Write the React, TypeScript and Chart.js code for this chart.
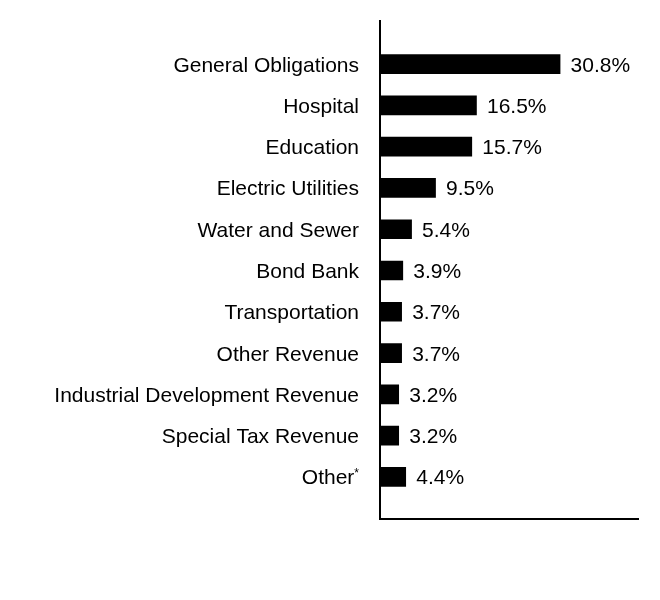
import React, { useEffect, useRef } from "react";
import { Chart, registerables } from "chart.js";

Chart.register(...registerables);

const categories = [
  "General Obligations",
  "Hospital",
  "Education",
  "Electric Utilities",
  "Water and Sewer",
  "Bond Bank",
  "Transportation",
  "Other Revenue",
  "Industrial Development Revenue",
  "Special Tax Revenue",
  "Other",
];
const footnoteMarks = ["", "", "", "", "", "", "", "", "", "", "*"];
const values = [30.8, 16.5, 15.7, 9.5, 5.4, 3.9, 3.7, 3.7, 3.2, 3.2, 4.4];

const FONT = "Arial, 'Liberation Sans', sans-serif";

const labelsPlugin = {
  id: "customLabels",
  afterDraw(chart: any) {
    const ctx = chart.ctx;
    const ys = chart.scales.y;
    const area = chart.chartArea;
    ctx.save();
    // axis lines
    ctx.strokeStyle = "#000";
    ctx.lineWidth = 2;
    ctx.beginPath();
    ctx.moveTo(area.left, 20);
    ctx.lineTo(area.left, 519);
    ctx.lineTo(area.right, 519);
    ctx.stroke();

    ctx.fillStyle = "#000";
    ctx.textBaseline = "alphabetic";
    const meta = chart.getDatasetMeta(0);
    categories.forEach((cat, i) => {
      const y = ys.getPixelForValue(i);
      const base = y + 7.5;
      ctx.font = `21px ${FONT}`;
      ctx.textAlign = "right";
      const mark = footnoteMarks[i];
      let right = area.left - 21;
      if (mark) {
        ctx.font = `12px ${FONT}`;
        const mw = ctx.measureText(mark).width;
        ctx.fillText(mark, right, base - 7);
        right -= mw;
        ctx.font = `21px ${FONT}`;
      }
      ctx.fillText(cat, right, base);
      const bar = meta.data[i];
      ctx.textAlign = "left";
      ctx.fillText(values[i].toFixed(1) + "%", bar.x + 10.5, base);
    });
    ctx.restore();
  },
};

export default function App() {
  const ref = useRef<HTMLCanvasElement>(null);
  useEffect(() => {
    if (!ref.current) return;
    const chart = new Chart(ref.current, {
      type: "bar",
      data: {
        labels: categories,
        datasets: [
          {
            data: values,
            backgroundColor: "#000",
            borderWidth: 0,
            barThickness: 19,
          },
        ],
      },
      options: {
        indexAxis: "y",
        animation: false,
        responsive: false,
        layout: { padding: { left: 380, right: 21, top: 43.5, bottom: 102.5 } },
        plugins: { legend: { display: false }, tooltip: { enabled: false } },
        scales: {
          x: { min: 0, max: 44.3, display: false, grid: { display: false } },
          y: { display: false, grid: { display: false } },
        },
      },
      plugins: [labelsPlugin],
    });
    return () => chart.destroy();
  }, []);
  return (
    <div style={{ position: "fixed", left: 0, top: 0, width: 660, height: 600, background: "#fff" }}>
      <canvas ref={ref} width={660} height={600} style={{ width: 660, height: 600 }} />
    </div>
  );
}
